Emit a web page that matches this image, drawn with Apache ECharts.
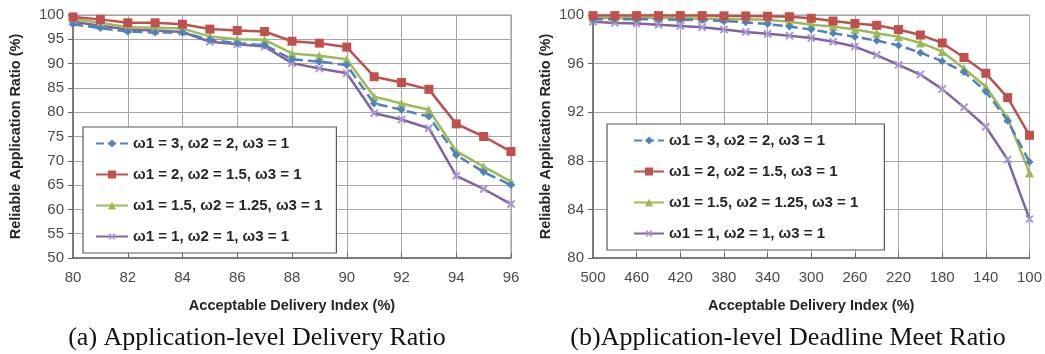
<!DOCTYPE html>
<html>
<head>
<meta charset="utf-8">
<script src="https://cdn.jsdelivr.net/npm/echarts@6/dist/echarts.min.js"></script>
<style>
html,body{margin:0;padding:0;background:#fff;}
#main{width:1045px;height:354px;}
</style>
</head>
<body>
<div id="main"></div>
<script>
// ---- data ----
const seriesNames = ['ω1 = 3, ω2 = 2, ω3 = 1', 'ω1 = 2, ω2 = 1.5, ω3 = 1', 'ω1 = 1.5, ω2 = 1.25, ω3 = 1', 'ω1 = 1, ω2 = 1, ω3 = 1'];

const catsA = ['80','81','82','83','84','85','86','87','88','89','90','91','92','93','94','95','96'];
const a_w3 = [98.1, 97.3, 96.6, 96.4, 96.4, 94.9, 94.2, 93.8, 90.9, 90.4, 89.7, 81.8, 80.5, 79.1, 71.2, 67.7, 65.0];
const a_w2 = [99.6, 99.1, 98.4, 98.4, 98.1, 97.1, 96.8, 96.6, 94.6, 94.2, 93.4, 87.3, 86.1, 84.7, 77.6, 75.0, 71.9];
const a_w15 = [99.2, 98.4, 97.5, 97.4, 97.2, 95.6, 95.0, 94.9, 92.1, 91.6, 90.9, 83.2, 81.8, 80.5, 72.0, 68.8, 65.7];
const a_w1 = [98.6, 97.8, 97.0, 96.8, 96.5, 94.5, 94.0, 93.5, 90.1, 89.0, 88.0, 79.8, 78.5, 76.7, 66.9, 64.2, 61.1];

const catsB = ['500','480','460','440','420','400','380','360','340','320','300','280','260','240','220','200','180','160','140','120','100'];
const b_w3 = [99.65, 99.65, 99.65, 99.65, 99.6, 99.6, 99.5, 99.4, 99.25, 99.05, 98.8, 98.5, 98.2, 97.9, 97.5, 96.9, 96.2, 95.3, 93.7, 91.3, 87.9];
const b_w2 = [99.95, 99.95, 99.95, 99.95, 99.95, 99.95, 99.93, 99.92, 99.9, 99.86, 99.73, 99.5, 99.3, 99.15, 98.8, 98.35, 97.7, 96.5, 95.2, 93.2, 90.1];
const b_w15 = [99.75, 99.75, 99.75, 99.75, 99.75, 99.7, 99.7, 99.65, 99.6, 99.45, 99.2, 99.05, 98.8, 98.5, 98.2, 97.7, 97.0, 95.6, 94.1, 91.5, 87.0];
const b_w1 = [99.45, 99.35, 99.3, 99.2, 99.1, 99.0, 98.8, 98.6, 98.45, 98.3, 98.1, 97.8, 97.4, 96.7, 95.9, 95.1, 93.9, 92.4, 90.8, 88.1, 83.2];

const yTitle = 'Reliable Application Ratio (%)';
const xTitle = 'Acceptable Delivery Index (%)';
const captionA = '(a) Application-level Delivery Ratio';
const captionB = '(b)Application-level Deadline Meet Ratio';

// ---- styles ----
const colors = ['#4f81bd', '#c0504d', '#9bbb59', '#8064a2'];
const xMark = 'path://M4,0L6,0L6,4L10,4L10,6L6,6L6,10L4,10L4,6L0,6L0,4L4,4Z';
const symbols = ['diamond', 'rect', 'triangle', xMark];
const symSizes = [8, 9, 9, 10];
const symRot = [0, 0, 0, 45];
const symColors = ['#4f81bd', '#c0504d', '#9bbb59', '#a994d6'];
const lineTypes = ['dashed', 'solid', 'solid', 'solid'];

const chart = echarts.init(document.getElementById('main'), null, {renderer: 'canvas'});

const titleStyle = {fontFamily: 'Liberation Sans', fontWeight: 'bold', fontSize: 14.5, color: '#262626'};
const tickStyle = {fontFamily: 'Liberation Sans', fontSize: 15, color: '#4a4a4a'};

function xAxisCfg(gi, cats) {
  return {
    type: 'category', gridIndex: gi, data: cats, boundaryGap: false,
    name: xTitle, nameLocation: 'middle', nameGap: 40,
    nameTextStyle: titleStyle,
    axisLine: {lineStyle: {color: '#666', width: 1.5}},
    axisTick: {inside: true, length: 5, interval: 1, lineStyle: {color: '#666'}},
    axisLabel: Object.assign({interval: 1, margin: 12}, tickStyle),
    splitLine: {show: true, interval: 1, lineStyle: {color: '#a6a6a6', width: 1}}
  };
}
function yAxisCfg(gi, min, max, interval, gap) {
  return {
    type: 'value', gridIndex: gi, min: min, max: max, interval: interval,
    name: yTitle, nameLocation: 'middle', nameGap: gap, nameRotate: 90,
    nameTextStyle: titleStyle,
    axisLine: {show: true, lineStyle: {color: '#666', width: 1.5}},
    axisTick: {show: true, inside: false, length: 5, lineStyle: {color: '#666'}},
    axisLabel: Object.assign({margin: 9}, tickStyle),
    splitLine: {show: true, lineStyle: {color: '#a6a6a6', width: 1}}
  };
}
function mkSeries(gi, arrs) {
  return arrs.map((d, i) => ({
    name: seriesNames[i], type: 'line', xAxisIndex: gi, yAxisIndex: gi,
    data: d, symbol: symbols[i], symbolSize: symSizes[i], symbolRotate: symRot[i],
    showAllSymbol: true, animation: false,
    lineStyle: {color: colors[i], width: 2.5, type: lineTypes[i]},
    itemStyle: {color: symColors[i], borderWidth: 0},
    z: i === 1 ? 5 : (i === 3 ? 2 : (i === 0 ? 4 : 3))
  }));
}
function legendCfg(left, top, padding, itemWidth) {
  return {
    orient: 'vertical', left: left, top: top,
    data: seriesNames,
    backgroundColor: '#fff', borderColor: '#595959', borderWidth: 1.2, borderRadius: 0,
    padding: padding, itemGap: 16, itemWidth: itemWidth, itemHeight: 10,
    textStyle: {fontFamily: 'Liberation Sans', fontWeight: 'bold', fontSize: 15, lineHeight: 15, color: '#262626'},
    selectedMode: false
  };
}

const option = {
  backgroundColor: '#fff',
  animation: false,
  grid: [
    {left: 73, right: 534, top: 15, bottom: 96, show: true, borderColor: '#8c8c8c', borderWidth: 1},
    {left: 593, right: 13, top: 15, bottom: 96, show: true, borderColor: '#8c8c8c', borderWidth: 1}
  ],
  xAxis: [xAxisCfg(0, catsA), xAxisCfg(1, catsB)],
  yAxis: [yAxisCfg(0, 50, 100, 5, 50), yAxisCfg(1, 80, 100, 4, 40)],
  legend: [legendCfg(83, 127, [9, 14, 9, 12], 32), legendCfg(607, 124, [9, 26, 9, 26], 30)],
  series: [].concat(mkSeries(0, [a_w3, a_w2, a_w15, a_w1]), mkSeries(1, [b_w3, b_w2, b_w15, b_w1])),
  graphic: [
    {type: 'text', x: 257, y: 338, style: {text: captionA, fontFamily: 'Liberation Serif', fontSize: 26, fill: '#111', textAlign: 'center', textVerticalAlign: 'middle'}},
    {type: 'text', x: 788, y: 338, style: {text: captionB, fontFamily: 'Liberation Serif', fontSize: 26, fill: '#111', textAlign: 'center', textVerticalAlign: 'middle'}}
  ]
};
chart.setOption(option);
</script>
</body>
</html>
